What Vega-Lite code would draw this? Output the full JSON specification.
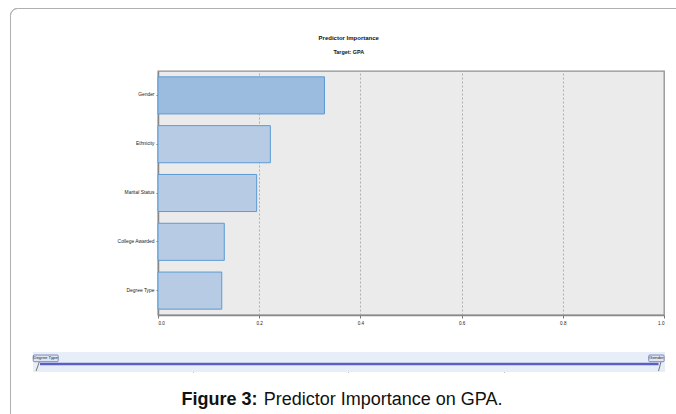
{
  "$schema": "https://vega.github.io/schema/vega-lite/v6.json",
  "padding": {"left": 8, "top": 6, "right": 0, "bottom": 0},
  "background": "white",
  "bounds": "flush",
  "spacing": 37,
  "config": {
    "font": "Liberation Sans, Arial, sans-serif",
    "view": {"stroke": null}
  },
  "datasets": {
    "importance": [
      {"predictor": "Gender", "importance": 0.329},
      {"predictor": "Ethnicity", "importance": 0.222},
      {"predictor": "Marital Status", "importance": 0.195},
      {"predictor": "College Awarded", "importance": 0.131},
      {"predictor": "Degree Type", "importance": 0.126}
    ],
    "slider": [
      {"range_from": "Degree Type", "range_to": "Gender"}
    ]
  },
  "vconcat": [
    {
      "width": 506,
      "height": 244,
      "title": {
        "text": "Predictor Importance",
        "subtitle": "Target: GPA",
        "anchor": "middle",
        "frame": "bounds",
        "fontSize": 6,
        "fontWeight": "bold",
        "color": "#111",
        "subtitleFontSize": 5.4,
        "subtitleColor": "#111",
        "subtitleFontWeight": "bold",
        "subtitlePadding": 9,
        "offset": 16
      },
      "data": {"name": "importance"},
      "view": {"fill": "#ebebeb", "stroke": "#8f8f8f", "strokeWidth": 1.3},
      "mark": {"type": "bar", "stroke": "#5b9bd5", "strokeWidth": 1},
      "encoding": {
        "y": {
          "field": "predictor",
          "type": "nominal",
          "sort": null,
          "scale": {"paddingInner": 0.24, "paddingOuter": 0.12},
          "axis": {
            "title": null,
            "labelFontSize": 4.9,
            "labelColor": "#222",
            "labelPadding": 2,
            "ticks": true,
            "tickSize": 2,
            "tickColor": "#777",
            "domainColor": "#888",
            "domainWidth": 1.5,
            "minExtent": 125,
            "maxExtent": 125
          }
        },
        "x": {
          "field": "importance",
          "type": "quantitative",
          "scale": {"domain": [0, 1], "nice": false},
          "axis": {
            "title": null,
            "values": [0, 0.2, 0.4, 0.6, 0.8, 1.0],
            "format": ".1f",
            "labelFontSize": 4.6,
            "labelColor": "#222",
            "labelPadding": 2,
            "tickSize": 3,
            "tickColor": "#777",
            "grid": true,
            "gridDash": [2, 2],
            "gridColor": "#a0a0a0",
            "gridWidth": 0.8,
            "domainColor": "#888",
            "domainWidth": 1.5
          }
        },
        "fill": {
          "condition": {"test": "datum.predictor === 'Gender'", "value": "#9cbcdf"},
          "value": "#b7cce4"
        }
      }
    },
    {
      "width": 506,
      "height": 20,
      "data": {"name": "slider"},
      "view": {"fill": null, "stroke": null},
      "layer": [
        {
          "mark": {"type": "rect", "fill": "#e8eef8"},
          "encoding": {
            "x": {"datum": -0.02503, "type": "quantitative", "scale": {"domain": [0.77728, 4.02503], "nice": false, "zero": false},
              "axis": {"title": null, "values": [1, 2, 3], "labels": false, "domain": false, "grid": false, "ticks": true, "tickSize": 4, "tickColor": "#666", "tickWidth": 0.8, "offset": -4}},
            "x2": {"datum": 4.0315},
            "y": {"datum": 0, "type": "quantitative", "scale": {"domain": [0, 1], "nice": false, "zero": false}, "axis": null},
            "y2": {"datum": 1}
          }
        },
        {
          "mark": {"type": "rule", "color": "#5a5fc4", "strokeWidth": 2.5},
          "encoding": {
            "x": {"datum": 0.02, "type": "quantitative"},
            "x2": {"datum": 3.99},
            "y": {"datum": 0.4, "type": "quantitative"}
          }
        },
        {
          "mark": {"type": "rule", "color": "#555", "strokeWidth": 0.8},
          "encoding": {
            "x": {"datum": 0.015, "type": "quantitative"},
            "x2": {"datum": -0.005},
            "y": {"datum": 0.5, "type": "quantitative"},
            "y2": {"datum": 0.05}
          }
        },
        {
          "mark": {"type": "rule", "color": "#555", "strokeWidth": 0.8},
          "encoding": {
            "x": {"datum": 4.005, "type": "quantitative"},
            "x2": {"datum": 3.99},
            "y": {"datum": 0.5, "type": "quantitative"},
            "y2": {"datum": 0.05}
          }
        },
        {
          "mark": {"type": "rect", "fill": "#dfe5f3", "stroke": "#6b6fa8", "strokeWidth": 0.8, "cornerRadius": 1},
          "encoding": {
            "x": {"datum": -0.024, "type": "quantitative"},
            "x2": {"datum": 0.137},
            "y": {"datum": 0.85, "type": "quantitative"},
            "y2": {"datum": 0.515}
          }
        },
        {
          "mark": {"type": "rect", "fill": "#dfe5f3", "stroke": "#6b6fa8", "strokeWidth": 0.8, "cornerRadius": 1},
          "encoding": {
            "x": {"datum": 3.927, "type": "quantitative"},
            "x2": {"datum": 4.026},
            "y": {"datum": 0.85, "type": "quantitative"},
            "y2": {"datum": 0.515}
          }
        },
        {
          "mark": {"type": "text", "fontSize": 4.3, "color": "#222", "align": "center", "baseline": "middle"},
          "encoding": {
            "x": {"datum": 0.056, "type": "quantitative"},
            "y": {"datum": 0.68, "type": "quantitative"},
            "text": {"field": "range_from"}
          }
        },
        {
          "mark": {"type": "text", "fontSize": 4.3, "color": "#222", "align": "center", "baseline": "middle"},
          "encoding": {
            "x": {"datum": 3.977, "type": "quantitative"},
            "y": {"datum": 0.68, "type": "quantitative"},
            "text": {"field": "range_to"}
          }
        },
        {
          "mark": {"type": "text", "fontSize": 18, "fontWeight": "bold", "color": "#111", "align": "left", "baseline": "alphabetic"},
          "encoding": {
            "x": {"datum": 0.928, "type": "quantitative"},
            "y": {"datum": -1.65, "type": "quantitative"},
            "text": {"value": "Figure 3:"}
          }
        },
        {
          "mark": {"type": "text", "fontSize": 18, "color": "#111", "align": "left", "baseline": "alphabetic"},
          "encoding": {
            "x": {"datum": 1.456, "type": "quantitative"},
            "y": {"datum": -1.65, "type": "quantitative"},
            "text": {"value": "Predictor Importance on GPA."}
          }
        },
        {
          "mark": {"type": "rule", "color": "#b0b0b0", "strokeWidth": 1},
          "encoding": {
            "x": {"datum": -0.16945, "type": "quantitative"},
            "y": {"datum": 17.825, "type": "quantitative"},
            "y2": {"datum": -2.175}
          }
        },
        {
          "mark": {"type": "rule", "color": "#b0b0b0", "strokeWidth": 1},
          "encoding": {
            "x": {"datum": -0.12452, "type": "quantitative"},
            "x2": {"datum": 4.1117},
            "y": {"datum": 18.175, "type": "quantitative"}
          }
        },
        {
          "mark": {"type": "arc", "theta": 4.7124, "theta2": 6.2832, "radius": 7, "radius2": 7, "fill": null, "stroke": "#b0b0b0", "strokeWidth": 1},
          "encoding": {
            "x": {"datum": -0.12452, "type": "quantitative"},
            "y": {"datum": 17.825, "type": "quantitative"}
          }
        }
      ]
    }
  ]
}
